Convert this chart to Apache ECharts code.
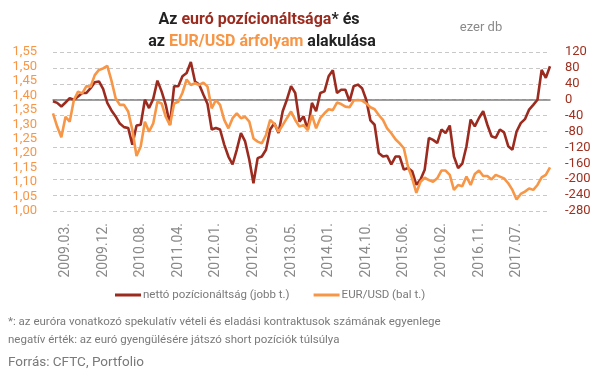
<!DOCTYPE html>
<html>
<head>
<meta charset="utf-8">
<script src="https://cdn.jsdelivr.net/npm/echarts@6/dist/echarts.min.js"></script>
<style>
html,body{margin:0;padding:0;background:#fff;}
#c{width:605px;height:378px;}
</style>
</head>
<body>
<div id="c"></div>
<script>
// x-axis tick labels (shown every 9th point, starting at point 3)
const tickLabels = ['2009.03.','2009.12.','2010.08.','2011.04.','2012.01.','2012.09.','2013.05.','2014.01.','2014.10.','2015.06.','2016.02.','2016.11.','2017.07.'];

// nettó pozícionáltság, ezer db (right axis)
const netPosition = [
  -4,-8,-17,-7,4,0,8,17,17,29,
  44,46,27,-8,-27,-42,-60,-69,-71,-113,
  -65,-63,0,-21,2,48,21,-13,-63,34,
  34,59,67,95,46,38,13,-11,-75,-71,
  -75,-113,-143,-163,-126,-84,-105,-151,-210,-147,
  -143,-126,-75,-59,-84,-29,0,34,17,-55,
  -42,-75,-8,-29,17,21,59,74,17,25,
  25,-4,34,38,29,0,-52,-63,-134,-143,
  -141,-163,-143,-143,-176,-172,-180,-214,-201,-176,
  -96,-101,-109,-75,-84,-65,-143,-172,-161,-117,
  -50,-67,-46,-29,-63,-92,-96,-75,-82,-117,
  -126,-80,-59,-49,-25,-13,0,75,55,84
];

// EUR/USD árfolyam (left axis)
const eurusd = [
  1.338,1.292,1.255,1.326,1.309,1.384,1.413,1.407,1.432,1.430,
  1.470,1.488,1.493,1.502,1.451,1.390,1.367,1.367,1.344,1.280,
  1.190,1.223,1.309,1.274,1.303,1.378,1.372,1.326,1.297,1.372,
  1.378,1.409,1.455,1.436,1.442,1.436,1.444,1.430,1.355,1.384,
  1.367,1.315,1.286,1.321,1.338,1.321,1.326,1.309,1.251,1.240,
  1.234,1.263,1.315,1.301,1.274,1.297,1.321,1.344,1.315,1.292,
  1.297,1.280,1.332,1.286,1.321,1.338,1.352,1.349,1.375,1.370,
  1.361,1.359,1.382,1.384,1.382,1.372,1.359,1.352,1.332,1.315,
  1.286,1.269,1.248,1.234,1.217,1.153,1.113,1.063,1.101,1.115,
  1.107,1.101,1.113,1.140,1.140,1.125,1.073,1.090,1.086,1.119,
  1.090,1.128,1.140,1.121,1.121,1.109,1.125,1.119,1.113,1.096,
  1.073,1.040,1.059,1.067,1.078,1.073,1.090,1.116,1.125,1.151
];

const categories = netPosition.map((_, i) => String(i));

const RED = '#9C2B1F';
const ORANGE = '#F79646';
const GRAY = '#808080';
const FONT = 'Roboto, sans-serif';

const chart = echarts.init(document.getElementById('c'), null, {renderer: 'canvas'});
chart.setOption({
  animation: false,
  backgroundColor: '#fff',
  textStyle: {fontFamily: FONT},
  grid: {left: 53, right: 55, top: 52, bottom: 167, containLabel: false},
  legend: {
    left: 110, top: 284, itemGap: 24, itemWidth: 26, itemHeight: 3, icon: 'rect',
    textStyle: {color: '#7a7a7a', fontSize: 11.5, fontFamily: FONT, padding: [0, 0, 0, -3]},
    data: ['nettó pozícionáltság (jobb t.)', 'EUR/USD (bal t.)']
  },
  xAxis: {
    type: 'category', data: categories, boundaryGap: false,
    axisLine: {show: true, onZero: true, onZeroAxisIndex: 1, lineStyle: {color: GRAY, width: 1.5}},
    axisTick: {show: false},
    axisLabel: {
      rotate: 90, color: '#8a8a8a', fontSize: 14, margin: 12, fontFamily: FONT,
      interval: (i) => i >= 3 && (i - 3) % 9 === 0,
      formatter: (v, i) => tickLabels[(i - 3) / 9] || ''
    },
    splitLine: {show: false}
  },
  yAxis: [
    {
      type: 'value', min: 1.0, max: 1.55, interval: 0.05, position: 'left',
      axisLine: {show: false}, axisTick: {show: false}, splitLine: {show: false},
      axisLabel: {color: ORANGE, fontSize: 13, margin: 16, fontFamily: FONT,
        formatter: v => v.toFixed(2).replace('.', ',')}
    },
    {
      type: 'value', min: -280, max: 120, interval: 40, position: 'right',
      axisLine: {show: false}, axisTick: {show: false},
      splitLine: {show: true, lineStyle: {color: '#c8c8c8', type: [4, 3], width: 1}},
      axisLabel: {color: '#A0301F', fontSize: 13, margin: 15, fontFamily: FONT}
    }
  ],
  series: [
    {
      name: 'nettó pozícionáltság (jobb t.)', type: 'line', yAxisIndex: 1,
      data: netPosition, showSymbol: false, symbol: 'none',
      lineStyle: {color: RED, width: 2.6}, itemStyle: {color: RED}
    },
    {
      name: 'EUR/USD (bal t.)', type: 'line', yAxisIndex: 0,
      data: eurusd, showSymbol: false, symbol: 'none',
      lineStyle: {color: ORANGE, width: 2.6}, itemStyle: {color: ORANGE}
    }
  ],
  graphic: [
    {type: 'text', x: 259, y: 20, style: {
      text: '{d|Az }{r|euró pozícionáltsága}{d|* és}', align: 'center', verticalAlign: 'middle',
      rich: {
        d: {fontSize: 16, fontWeight: 'bold', fill: '#222', fontFamily: FONT},
        r: {fontSize: 16, fontWeight: 'bold', fill: RED, fontFamily: FONT}
      }}},
    {type: 'text', x: 262, y: 42, style: {
      text: '{d|az }{o|EUR/USD árfolyam}{d| alakulása}', align: 'center', verticalAlign: 'middle',
      rich: {
        d: {fontSize: 16, fontWeight: 'bold', fill: '#222', fontFamily: FONT},
        o: {fontSize: 16, fontWeight: 'bold', fill: ORANGE, fontFamily: FONT}
      }}},
    {type: 'text', x: 481, y: 28, style: {text: 'ezer db', align: 'center', verticalAlign: 'middle',
      fill: '#8a8a8a', fontSize: 13, fontFamily: FONT}},
    {type: 'text', x: 8, y: 322, style: {text: '*: az euróra vonatkozó spekulatív vételi és eladási kontraktusok számának egyenlege',
      verticalAlign: 'middle', fill: '#7a7a7a', fontSize: 11.5, fontFamily: FONT}},
    {type: 'text', x: 8, y: 340, style: {text: 'negatív érték: az euró gyengülésére játszó short pozíciók túlsúlya',
      verticalAlign: 'middle', fill: '#7a7a7a', fontSize: 11.5, fontFamily: FONT}},
    {type: 'text', x: 8, y: 363, style: {text: 'Forrás: CFTC, Portfolio',
      verticalAlign: 'middle', fill: '#7a7a7a', fontSize: 13.5, fontFamily: FONT}}
  ]
});
</script>
</body>
</html>
